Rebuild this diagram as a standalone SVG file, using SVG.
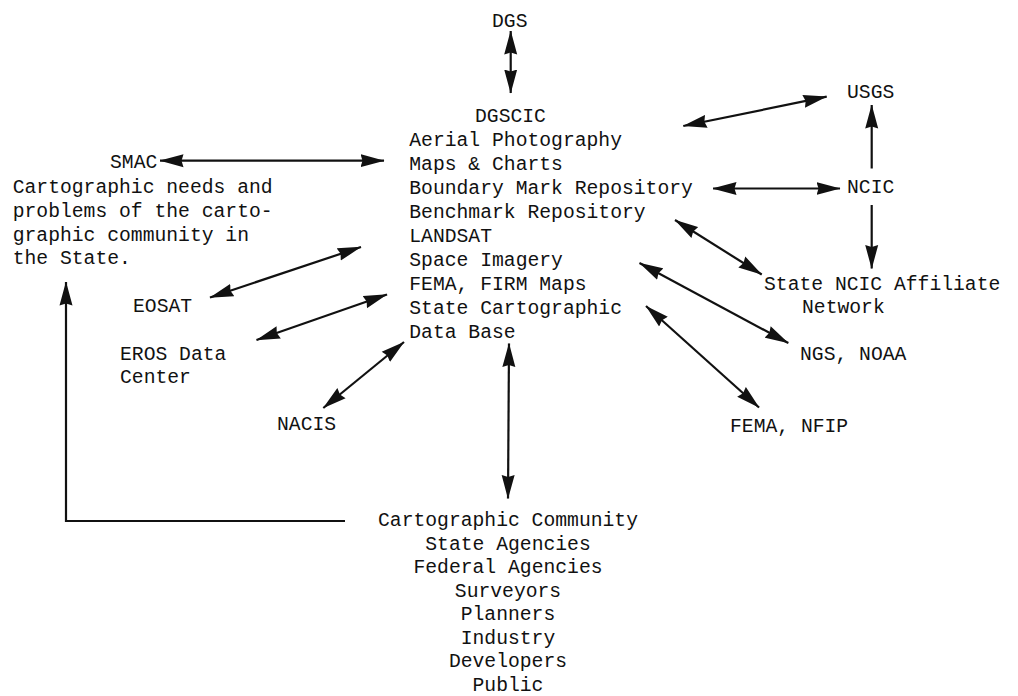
<svg xmlns="http://www.w3.org/2000/svg" width="1018" height="696" viewBox="0 0 1018 696">
<style>
text{font-family:"Liberation Mono","DejaVu Sans Mono",monospace;font-size:19.7px;fill:#111}
.c{text-anchor:middle}
.ln{stroke:#111;stroke-width:2.2;fill:none}
.both{marker-start:url(#ah);marker-end:url(#ah)}
.end{marker-end:url(#ah)}
</style>
<defs>
<marker id="ah" markerUnits="userSpaceOnUse" markerWidth="24" markerHeight="14" refX="23.5" refY="7" orient="auto-start-reverse" viewBox="0 0 24 14">
<path d="M0,0.5 L24,7 L0,13.5 L2,7 z" fill="#111"/>
</marker>
</defs>
<rect width="1018" height="696" fill="#fff"/>
<g id="connectors">
<line class="ln both" x1="510.7" y1="31" x2="510.7" y2="93"/>
<line class="ln both" x1="160" y1="160.7" x2="384" y2="160.7"/>
<line class="ln both" x1="361" y1="247" x2="210" y2="297.5"/>
<line class="ln both" x1="387" y1="294.5" x2="256.5" y2="340"/>
<line class="ln both" x1="404" y1="342" x2="323.3" y2="408"/>
<line class="ln both" x1="509" y1="343.5" x2="508" y2="498.5"/>
<line class="ln both" x1="683.3" y1="126" x2="826.7" y2="96.7"/>
<line class="ln both" x1="713" y1="188.5" x2="840" y2="188.5"/>
<line class="ln end" x1="871.7" y1="168.5" x2="871.7" y2="105"/>
<line class="ln end" x1="871.7" y1="205" x2="871.7" y2="268.5"/>
<line class="ln both" x1="675" y1="220" x2="761.7" y2="274.5"/>
<line class="ln both" x1="639.5" y1="263" x2="788.3" y2="343"/>
<line class="ln both" x1="646" y1="306" x2="759" y2="407.5"/>
<polyline class="ln end" points="345,521 66,521 66,282"/>
</g>
<g id="dgs"><text x="492" y="27">DGS</text></g>
<g id="dgscic">
<text x="475" y="122">DGSCIC</text>
<text x="409.3" y="146">Aerial Photography</text>
<text x="409.3" y="170">Maps &amp; Charts</text>
<text x="409.3" y="194">Boundary Mark Repository</text>
<text x="409.3" y="218">Benchmark Repository</text>
<text x="409.3" y="242">LANDSAT</text>
<text x="409.3" y="266">Space Imagery</text>
<text x="409.3" y="290">FEMA, FIRM Maps</text>
<text x="409.3" y="314">State Cartographic</text>
<text x="409.3" y="338">Data Base</text>
</g>
<g id="smac">
<text x="110" y="168">SMAC</text>
<text x="12.7" y="193">Cartographic needs and</text>
<text x="12.7" y="217">problems of the carto-</text>
<text x="12.7" y="240.5">graphic community in</text>
<text x="12.7" y="264">the State.</text>
</g>
<g id="eosat"><text x="133" y="312">EOSAT</text></g>
<g id="eros">
<text x="120" y="359.5">EROS Data</text>
<text x="120" y="382.5">Center</text>
</g>
<g id="nacis"><text x="277" y="430">NACIS</text></g>
<g id="usgs"><text x="847" y="98">USGS</text></g>
<g id="ncic"><text x="847" y="193">NCIC</text></g>
<g id="state-ncic">
<text x="764" y="290">State NCIC Affiliate</text>
<text x="802" y="313">Network</text>
</g>
<g id="ngs"><text x="800" y="360">NGS, NOAA</text></g>
<g id="fema"><text x="730" y="432">FEMA, NFIP</text></g>
<g id="community">
<text class="c" x="508" y="526">Cartographic Community</text>
<text class="c" x="508" y="549.5">State Agencies</text>
<text class="c" x="508" y="573">Federal Agencies</text>
<text class="c" x="508" y="596.5">Surveyors</text>
<text class="c" x="508" y="620">Planners</text>
<text class="c" x="508" y="643.5">Industry</text>
<text class="c" x="508" y="667">Developers</text>
<text class="c" x="508" y="690.5">Public</text>
</g>
</svg>
